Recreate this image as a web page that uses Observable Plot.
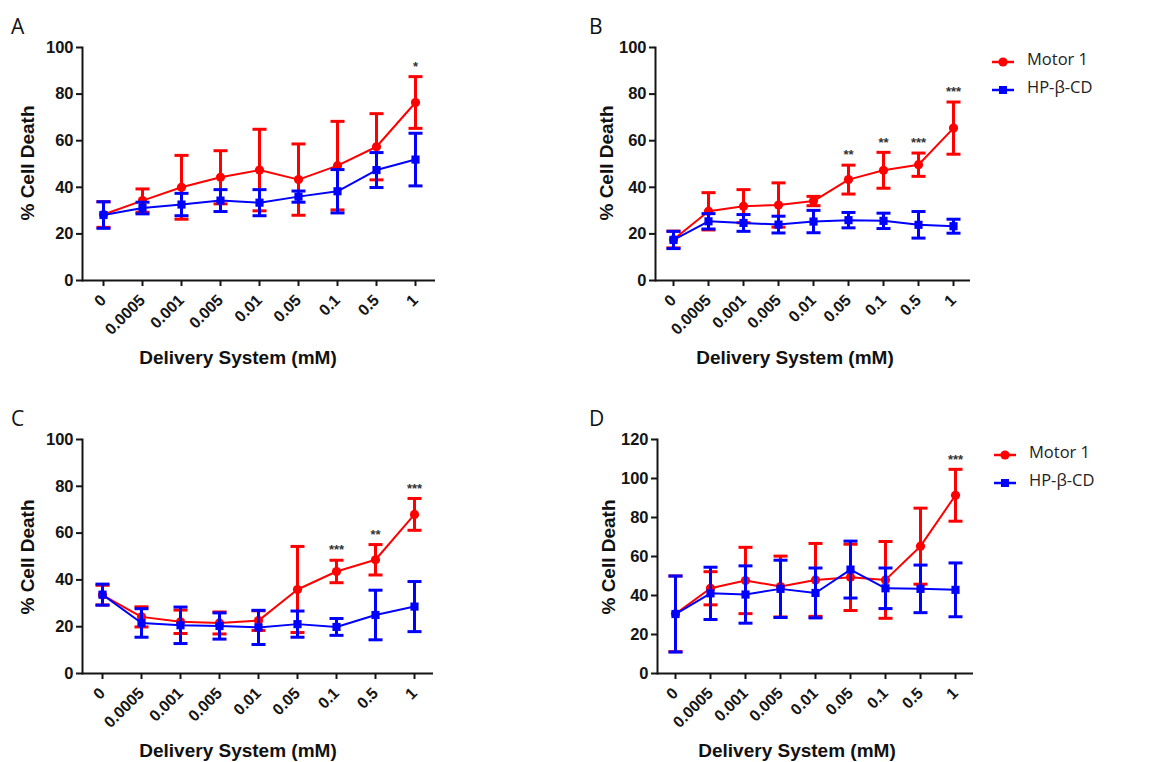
<!DOCTYPE html>
<html>
<head>
<meta charset="utf-8">
<script src="https://cdn.jsdelivr.net/npm/d3@7"></script>
<script src="https://cdn.jsdelivr.net/npm/@observablehq/plot@0.6"></script>
<style>
  html, body { margin: 0; padding: 0; background: #fff; }
  #root { position: relative; width: 1163px; height: 762px; overflow: hidden; background: #fff; }
  .panel { position: absolute; }
  .letter { position: absolute; font-family: "Open Sans", sans-serif; font-size: 21px; color: #111; line-height: 1; }
  .xtitle, .ytitle { position: absolute; font-family: "Liberation Sans", Arial, sans-serif; font-weight: bold; font-size: 19px; color: #111; white-space: nowrap; line-height: 1; }
  .xtitle { transform: translate(-50%, -50%); }
  .ytitle { transform: translate(-50%, -50%) rotate(-90deg); }
  .leg { position: absolute; font-family: "Open Sans", sans-serif; font-size: 16.5px; color: #222; line-height: 1; white-space: nowrap; }
</style>
</head>
<body>
<div id="root"></div>
<script>
// ---------------- data ----------------
const concentrations = ["0", "0.0005", "0.001", "0.005", "0.01", "0.05", "0.1", "0.5", "1"];
const seriesNames = ["Motor 1", "HP-β-CD"];
const seriesColors = ["#ff0000", "#0000ff"];

// Panel A
const A_motor    = [28.3, 34.3, 40.0, 44.3, 47.4, 43.3, 49.3, 57.4, 76.4];
const A_motorErr = [5.5, 5.0, 13.7, 11.4, 17.5, 15.3, 19.0, 14.2, 11.1];
const A_hp       = [28.1, 31.1, 32.6, 34.3, 33.4, 36.0, 38.3, 47.4, 51.9];
const A_hpErr    = [5.7, 2.5, 4.8, 4.7, 5.6, 2.4, 9.3, 7.5, 11.3];
const A_stars    = ["", "", "", "", "", "", "", "", "*"];

// Panel B
const B_motor    = [17.6, 29.7, 31.9, 32.4, 34.1, 43.3, 47.3, 49.7, 65.4];
const B_motorErr = [3.6, 8.0, 7.1, 9.5, 2.0, 6.2, 7.7, 5.0, 11.2];
const B_hp       = [17.4, 25.4, 24.7, 24.0, 25.3, 25.9, 25.6, 23.9, 23.3];
const B_hpErr    = [3.7, 3.3, 3.6, 3.6, 4.8, 3.3, 3.3, 5.7, 3.0];
const B_stars    = ["", "", "", "", "", "**", "**", "***", "***"];

// Panel C
const C_motor    = [33.5, 24.2, 22.1, 21.6, 22.6, 35.9, 43.6, 48.6, 68.0];
const C_motorErr = [4.2, 4.3, 5.0, 4.7, 4.2, 18.4, 4.8, 6.5, 6.8];
const C_hp       = [33.7, 21.6, 20.6, 20.3, 19.7, 21.1, 19.9, 25.0, 28.6];
const C_hpErr    = [4.5, 6.1, 7.8, 5.6, 7.3, 5.6, 3.6, 10.6, 10.7];
const C_stars    = ["", "", "", "", "", "", "***", "**", "***"];

// Panel D
const D_motor    = [30.6, 43.7, 47.7, 44.6, 48.0, 49.3, 48.0, 65.3, 91.4];
const D_motorErr = [19.4, 8.5, 17.0, 15.6, 18.7, 17.0, 19.7, 19.5, 13.3];
const D_hp       = [30.5, 41.1, 40.5, 43.4, 41.3, 53.3, 43.7, 43.4, 42.9];
const D_hpErr    = [19.5, 13.4, 14.7, 14.7, 12.8, 14.6, 10.4, 12.2, 13.8];
const D_stars    = ["", "", "", "", "", "", "", "", "***"];

const yTicks100 = [0, 20, 40, 60, 80, 100];
const yTicks120 = [0, 20, 40, 60, 80, 100, 120];

// ---------------- layout ----------------
const panels = [
  {id: "A", left: 0,   top: 0,   width: 450, height: 380, mt: 47, mb: 100, ml: 82, mr: 15, ymax: 100, ticks: yTicks100,
   motor: A_motor, motorErr: A_motorErr, hp: A_hp, hpErr: A_hpErr, stars: A_stars,
   letter: [11, 16], xt: [238, 357], yt: [27, 163], legend: null},
  {id: "B", left: 573, top: 0,   width: 410, height: 380, mt: 47, mb: 100, ml: 82, mr: 13, ymax: 100, ticks: yTicks100,
   motor: B_motor, motorErr: B_motorErr, hp: B_hp, hpErr: B_hpErr, stars: B_stars,
   letter: [589, 16], xt: [795, 357], yt: [606, 163], legend: [991, 62]},
  {id: "C", left: 0,   top: 390, width: 450, height: 372, mt: 49, mb: 89, ml: 82, mr: 17, ymax: 100, ticks: yTicks100,
   motor: C_motor, motorErr: C_motorErr, hp: C_hp, hpErr: C_hpErr, stars: C_stars,
   letter: [11, 408], xt: [238, 750], yt: [27, 557], legend: null},
  {id: "D", left: 575, top: 390, width: 410, height: 372, mt: 49, mb: 89, ml: 82, mr: 12, ymax: 120, ticks: yTicks120,
   motor: D_motor, motorErr: D_motorErr, hp: D_hp, hpErr: D_hpErr, stars: D_stars,
   letter: [589, 408], xt: [797, 750], yt: [608, 557], legend: [993, 455]}
];

// horizontal cap symbol for error bars
const capSymbol = { draw(ctx, size) { ctx.moveTo(-7, 0); ctx.lineTo(7, 0); } };

const root = document.getElementById("root");

function seriesMarks(rows, color, symbol) {
  return [
    Plot.ruleX(rows, {x: "c", y1: d => d.m - d.e, y2: d => d.m + d.e, stroke: color, strokeWidth: 3}),
    Plot.dot(rows, {x: "c", y: d => d.m + d.e, symbol: capSymbol, fill: "none", stroke: color, strokeWidth: 3}),
    Plot.dot(rows, {x: "c", y: d => d.m - d.e, symbol: capSymbol, fill: "none", stroke: color, strokeWidth: 3}),
    Plot.line(rows, {x: "c", y: "m", stroke: color, strokeWidth: 2}),
    Plot.dot(rows, {x: "c", y: "m", symbol: symbol, r: 4.6, fill: color, stroke: "none"})
  ];
}

for (const p of panels) {
  const motorRows = concentrations.map((c, i) => ({c, m: p.motor[i], e: p.motorErr[i], star: p.stars[i]}));
  const hpRows = concentrations.map((c, i) => ({c, m: p.hp[i], e: p.hpErr[i]}));

  const chart = Plot.plot({
    width: p.width, height: p.height,
    marginTop: p.mt, marginBottom: p.mb, marginLeft: p.ml, marginRight: p.mr,
    style: {fontFamily: "'Liberation Sans', Arial, sans-serif", fontSize: "16px", fontWeight: "bold", color: "#151515", background: "transparent", overflow: "visible"},
    x: {type: "point", domain: concentrations, padding: 0.5, label: null, axis: null},
    y: {domain: [0, p.ymax], label: null, axis: null},
    marks: [
      Plot.axisY({ticks: p.ticks, tickSize: 6, tickPadding: 3, strokeWidth: 2, label: null, fontSize: 16.5}),
      Plot.axisX({tickRotate: -45, tickSize: 6, tickPadding: 11, strokeWidth: 2, label: null, fontSize: 16}),
      Plot.frame({anchor: "left", strokeWidth: 2, stroke: "#151515"}),
      Plot.ruleY([0], {strokeWidth: 2, stroke: "#151515"}),
      ...seriesMarks(motorRows, seriesColors[0], "circle"),
      ...seriesMarks(hpRows, seriesColors[1], "square"),
      Plot.text(motorRows.filter(d => d.star), {x: "c", y: d => d.m + d.e, text: "star", dy: -10, fontSize: 13, fontWeight: "bold", fill: "#333"})
    ]
  });

  const div = document.createElement("div");
  div.className = "panel";
  div.style.left = p.left + "px";
  div.style.top = p.top + "px";
  div.appendChild(chart);
  root.appendChild(div);

  const letter = document.createElement("div");
  letter.className = "letter";
  letter.textContent = p.id;
  letter.style.left = p.letter[0] + "px";
  letter.style.top = p.letter[1] + "px";
  root.appendChild(letter);

  const xt = document.createElement("div");
  xt.className = "xtitle";
  xt.textContent = "Delivery System (mM)";
  xt.style.left = p.xt[0] + "px";
  xt.style.top = p.xt[1] + "px";
  root.appendChild(xt);

  const yt = document.createElement("div");
  yt.className = "ytitle";
  yt.textContent = "% Cell Death";
  yt.style.left = p.yt[0] + "px";
  yt.style.top = p.yt[1] + "px";
  root.appendChild(yt);

  if (p.legend) {
    seriesNames.forEach((name, i) => {
      const cy = p.legend[1] + i * 28;
      const sw = d3.create("svg").attr("width", 24).attr("height", 14)
        .style("position", "absolute").style("left", p.legend[0] + "px").style("top", (cy - 7) + "px");
      sw.append("line").attr("x1", 1).attr("x2", 23).attr("y1", 7).attr("y2", 7)
        .attr("stroke", seriesColors[i]).attr("stroke-width", 2.5);
      if (i === 0) sw.append("circle").attr("cx", 12).attr("cy", 7).attr("r", 4.6).attr("fill", seriesColors[i]);
      else sw.append("rect").attr("x", 8).attr("y", 3).attr("width", 8).attr("height", 8).attr("fill", seriesColors[i]);
      root.appendChild(sw.node());
      const t = document.createElement("div");
      t.className = "leg";
      t.textContent = name;
      t.style.left = (p.legend[0] + 36) + "px";
      t.style.top = (cy - 11) + "px";
      root.appendChild(t);
    });
  }
}
</script>
</body>
</html>
